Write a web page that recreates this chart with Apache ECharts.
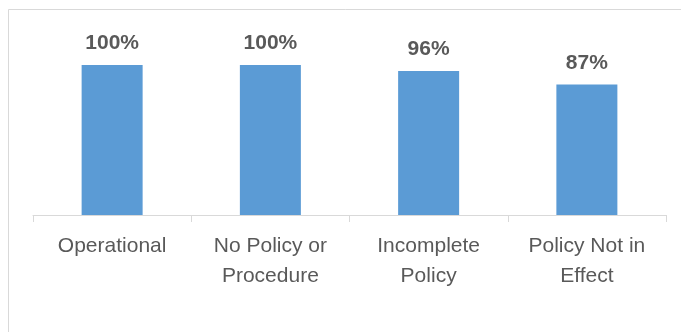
<!DOCTYPE html>
<html>
<head>
<meta charset="utf-8">
<script src="https://cdn.jsdelivr.net/npm/echarts@6/dist/echarts.min.js"></script>
<style>
  html, body { margin: 0; padding: 0; background: #fff; }
  #chart { width: 681px; height: 332px; }
</style>
</head>
<body>
<div id="chart"></div>
<script>
// Policy status categories and their compliance percentages
const categories = ['Operational', 'No Policy or\nProcedure', 'Incomplete\nPolicy', 'Policy Not in\nEffect'];
const values = [100, 100, 96, 87];

const chart = echarts.init(document.getElementById('chart'), null, { renderer: 'canvas' });

chart.setOption({
  animation: false,
  backgroundColor: '#ffffff',
  graphic: [{
    type: 'rect',
    silent: true,
    shape: { x: 8.5, y: 9.5, width: 720, height: 400 },
    style: { fill: 'none', stroke: '#d9d9d9', lineWidth: 1 }
  }],
  grid: { left: 33, right: 15, top: 65, bottom: 117, containLabel: false },
  xAxis: {
    type: 'category',
    data: categories,
    axisLine: { show: true, lineStyle: { color: '#d9d9d9', width: 1 } },
    axisTick: { show: true, length: 7, alignWithLabel: false, lineStyle: { color: '#d9d9d9' } },
    axisLabel: {
      color: '#595959',
      fontFamily: '"Liberation Sans", Arial, sans-serif',
      fontSize: 21,
      lineHeight: 30,
      margin: 16
    }
  },
  yAxis: {
    type: 'value',
    min: 0,
    max: 100,
    show: false,
    splitLine: { show: false }
  },
  series: [{
    type: 'bar',
    data: values,
    barWidth: 61,
    itemStyle: { color: '#5b9bd5' },
    label: {
      show: true,
      position: 'top',
      distance: 11,
      formatter: p => p.value + '%',
      color: '#595959',
      fontWeight: 'bold',
      fontFamily: '"Liberation Sans", Arial, sans-serif',
      fontSize: 21
    }
  }]
});
</script>
</body>
</html>
